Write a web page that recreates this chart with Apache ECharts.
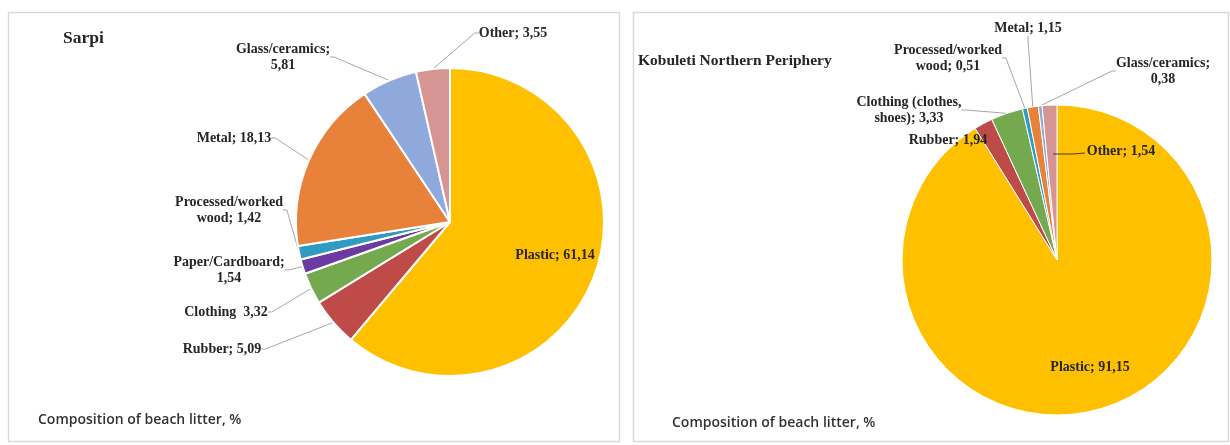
<!DOCTYPE html>
<html>
<head>
<meta charset="utf-8">
<script src="https://cdn.jsdelivr.net/npm/echarts@6/dist/echarts.min.js"></script>
<style>
  html, body { margin: 0; padding: 0; background: #fff; }
  #chart { width: 1230px; height: 445px; }
</style>
</head>
<body>
<div id="chart"></div>
<script>
// Sarpi
var sarpiNames = ['Plastic', 'Rubber', 'Clothing', 'Paper/Cardboard', 'Processed/worked\nwood', 'Metal', 'Glass/ceramics', 'Other'];
var sarpiValues = [61.14, 5.09, 3.32, 1.54, 1.42, 18.13, 5.81, 3.55];
var sarpiSep = ['; ', '; ', '  ', ';\n', '; ', '; ', ';\n', '; '];

// Kobuleti Northern Periphery
var kobNames = ['Plastic', 'Rubber', 'Clothing (clothes,\nshoes)', 'Processed/worked\nwood', 'Metal', 'Glass/ceramics', 'Other'];
var kobValues = [91.15, 1.94, 3.33, 0.51, 1.15, 0.38, 1.54];
var kobSep = ['; ', '; ', '; ', '; ', '; ', ';\n', '; '];

var colors = {
  'Plastic': '#FFC000',
  'Rubber': '#BE4B48',
  'Clothing': '#74A950',
  'Clothing (clothes,\nshoes)': '#74A950',
  'Paper/Cardboard': '#6A3BA0',
  'Processed/worked\nwood': '#2F9BC1',
  'Metal': '#E8823A',
  'Glass/ceramics': '#8FA9DC',
  'Other': '#D69593'
};

var kobCenter = [1057, 260];

// label centres (px)
var labelPos = [
  [[555, 255], [222, 349], [226, 312], [229, 270], [229, 210], [234, 138], [283, 57], [513, 33]],
  [[1090, 367], [948, 140], [909, 110], [948, 58], [1028, 28], [1163, 71], [1121, 151]]
];

function buildData(names, values, sep) {
  return names.map(function (n, i) {
    return {
      name: n,
      value: values[i],
      sep: sep[i],
      itemStyle: { color: colors[n] },
      labelLine: { show: n !== 'Plastic' }
    };
  });
}

function fmt(params) {
  return params.name + params.data.sep + params.value.toFixed(2).replace('.', ',');
}

var labelFont = {
  show: true,
  position: 'outside',
  formatter: fmt,
  fontFamily: 'Liberation Serif',
  fontWeight: 'bold',
  fontSize: 14,
  lineHeight: 16,
  color: '#262626'
};

var lineStyle = { show: true, length: 8, length2: 4, lineStyle: { color: '#A6A6A6', width: 1 } };

function layoutFor(k) {
  return function (p) {
    var pos = labelPos[k][p.dataIndex];
    return { x: pos[0], y: pos[1], align: 'center', verticalAlign: 'middle', hideOverlap: false };
  };
}

var kobData = buildData(kobNames, kobValues, kobSep);
kobData[6].labelLine = { show: false };

// transparent copy on top: only carries the "Other" leader that crosses the yellow slice
var kobOverlay = kobNames.map(function (n, i) {
  var isOther = n === 'Other';
  return {
    name: n,
    value: kobValues[i],
    sep: kobSep[i],
    itemStyle: { color: 'rgba(0,0,0,0)', borderWidth: 0 },
    label: { show: isOther, color: 'rgba(0,0,0,0)' },
    labelLine: { show: isOther, lineStyle: { color: '#404040', width: 1 } }
  };
});

var chart = echarts.init(document.getElementById('chart'));
chart.setOption({
  animation: false,
  title: [
    { text: 'Sarpi', left: 63, top: 29, padding: 0,
      textStyle: { fontFamily: 'Liberation Serif', fontWeight: 'bold', fontSize: 17.5, color: '#262626' } },
    { text: 'Kobuleti Northern Periphery', left: 638, top: 53, padding: 0,
      textStyle: { fontFamily: 'Liberation Serif', fontWeight: 'bold', fontSize: 15.5, color: '#262626' } },
    { text: 'Composition of beach litter, %', left: 38, top: 413, padding: 0,
      textStyle: { fontFamily: 'Open Sans', fontWeight: 600, fontSize: 14, color: '#333' } },
    { text: 'Composition of beach litter, %', left: 672, top: 416, padding: 0,
      textStyle: { fontFamily: 'Open Sans', fontWeight: 600, fontSize: 14, color: '#333' } }
  ],
  graphic: [
    { type: 'rect', shape: { x: 8.5, y: 12.5, width: 611, height: 429 }, style: { fill: 'none', stroke: '#D9D9D9', lineWidth: 1.5 } },
    { type: 'rect', shape: { x: 633.5, y: 12.5, width: 595, height: 429 }, style: { fill: 'none', stroke: '#D9D9D9', lineWidth: 1.5 } }
  ],
  series: [
    {
      type: 'pie',
      center: [450, 222],
      radius: 154,
      startAngle: 90,
      clockwise: true,
      avoidLabelOverlap: false,
      itemStyle: { borderColor: '#fff', borderWidth: 2 },
      label: labelFont,
      labelLine: lineStyle,
      emphasis: { disabled: true },
      labelLayout: layoutFor(0),
      data: buildData(sarpiNames, sarpiValues, sarpiSep)
    },
    {
      type: 'pie',
      center: kobCenter,
      radius: 155,
      startAngle: 90,
      clockwise: true,
      avoidLabelOverlap: false,
      itemStyle: { borderColor: '#fff', borderWidth: 1 },
      label: labelFont,
      labelLine: lineStyle,
      emphasis: { disabled: true },
      labelLayout: layoutFor(1),
      data: kobData
    },
    {
      type: 'pie',
      z: 5,
      silent: true,
      center: kobCenter,
      radius: 155,
      startAngle: 90,
      clockwise: true,
      avoidLabelOverlap: false,
      label: labelFont,
      labelLine: { show: true, length: 8, length2: 0 },
      emphasis: { disabled: true },
      labelLayout: function (p) {
        var pos = labelPos[1][p.dataIndex];
        var left = pos[0] - p.labelRect.width / 2;
        return {
          x: pos[0], y: pos[1], align: 'center', verticalAlign: 'middle', hideOverlap: false,
          labelLinePoints: [[kobCenter[0] - 4, pos[1] + 3], [left - 14, pos[1] + 3], [left - 2, pos[1] + 2]]
        };
      },
      data: kobOverlay
    }
  ]
});
</script>
</body>
</html>
